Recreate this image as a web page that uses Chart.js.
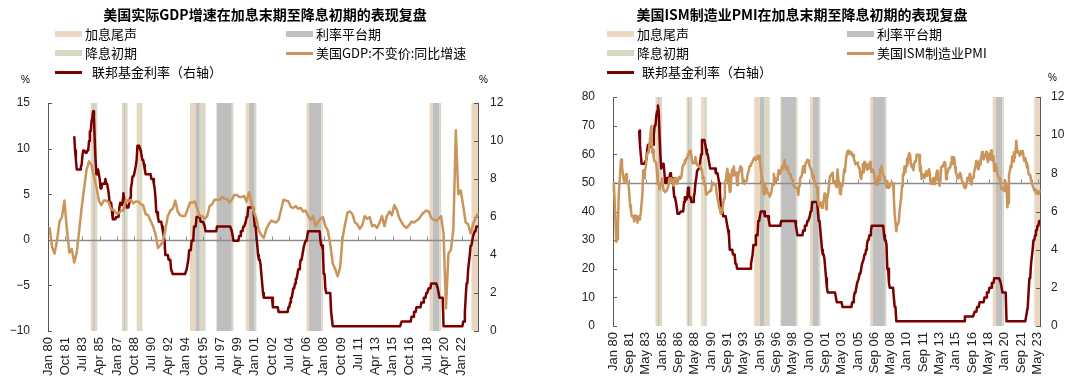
<!DOCTYPE html>
<html>
<head>
<meta charset="utf-8">
<script src="https://cdn.jsdelivr.net/npm/chart.js@4.4.0/dist/chart.umd.min.js"></script>
<style>
	body { margin: 0; background: #fff; }
	#page { position: relative; width: 1080px; height: 386px; overflow: hidden; font-family: "Noto Sans CJK SC", sans-serif; color: #000; }
	.panel { position: absolute; top: 0; width: 540px; height: 386px; }
	.panel canvas { position: absolute; left: 0; top: 0; }
	.title { position: absolute; top: 4px; left: 0; width: 530px; text-align: center; font-weight: bold; font-size: 14px; }
	.leg { position: absolute; font-size: 13px; line-height: 16px; white-space: nowrap; }
	.sw { position: absolute; }
	.unit { position: absolute; font-family: "Liberation Sans", sans-serif; font-size: 10px; }
</style>
</head>
<body>
<div id="page">
	<div class="panel" style="left:0">
		<canvas id="gdpChart" width="540" height="386"></canvas>
		<div class="title">美国实际GDP增速在加息末期至降息初期的表现复盘</div>
		<div class="sw" style="left:55px;top:31px;width:27px;height:6px;background:#E9D7C0"></div>
		<div class="leg" style="left:85px;top:26px">加息尾声</div>
		<div class="sw" style="left:286px;top:31px;width:27px;height:6px;background:#BFBFBF"></div>
		<div class="leg" style="left:316px;top:26px">利率平台期</div>
		<div class="sw" style="left:55px;top:50px;width:27px;height:6px;background:#D9D8C4"></div>
		<div class="leg" style="left:85px;top:45px">降息初期</div>
		<div class="sw" style="left:286px;top:52px;width:27px;height:3px;background:#C9955A"></div>
		<div class="leg" style="left:316px;top:45px">美国GDP:不变价:同比增速</div>
		<div class="sw" style="left:55px;top:71px;width:27px;height:3px;background:#780000"></div>
		<div class="leg" style="left:92px;top:64px">联邦基金利率（右轴）</div>
		<div class="unit" style="left:21px;top:74px">%</div>
		<div class="unit" style="left:479px;top:74px">%</div>
	</div>
	<div class="panel" style="left:540px">
		<canvas id="pmiChart" width="540" height="386"></canvas>
		<div class="title" style="left:-3px">美国ISM制造业PMI在加息末期至降息初期的表现复盘</div>
		<div class="sw" style="left:67px;top:31px;width:27px;height:6px;background:#E9D7C0"></div>
		<div class="leg" style="left:97px;top:26px">加息尾声</div>
		<div class="sw" style="left:307px;top:31px;width:27px;height:6px;background:#BFBFBF"></div>
		<div class="leg" style="left:337px;top:26px">利率平台期</div>
		<div class="sw" style="left:67px;top:50px;width:27px;height:6px;background:#D9D8C4"></div>
		<div class="leg" style="left:97px;top:45px">降息初期</div>
		<div class="sw" style="left:307px;top:52px;width:27px;height:3px;background:#C9955A"></div>
		<div class="leg" style="left:337px;top:45px">美国ISM制造业PMI</div>
		<div class="sw" style="left:67px;top:71px;width:27px;height:3px;background:#780000"></div>
		<div class="leg" style="left:102px;top:64px">联邦基金利率（右轴）</div>
		<div class="unit" style="left:508px;top:72px">%</div>
	</div>
</div>
<script>
//======================================================================================================
// Data
//======================================================================================================
var MONTH_NAMES = ['Jan','Feb','Mar','Apr','May','Jun','Jul','Aug','Sep','Oct','Nov','Dec'];
var GDP_MONTHS = 525;   // Jan 80 .. Sep 23
var PMI_MONTHS = 524;   // Jan 80 .. Aug 23

// Fed funds target rate (upper bound), monthly from Jan 80
var fedFunds = [
	null,null,null,null,null,null,null,null,null,null,null,null,
	null,null,null,null,null,null,null,null,null,null,null,null,
	null,null,null,null,null,null,null,null,10.25,9.5,9.0,8.5,
	8.5,8.5,8.5,8.5,8.63,8.75,9.25,9.5,9.5,9.5,9.38,9.38,
	9.5,9.5,10.0,10.5,10.5,11.0,11.25,11.56,11.25,10.0,9.0,8.25,
	8.25,8.5,8.5,8.0,7.5,7.5,7.75,7.75,7.75,7.75,8.0,7.75,
	7.75,7.75,7.25,6.75,6.75,6.75,6.25,5.88,5.88,5.88,5.88,6.0,
	6.0,6.0,6.0,6.5,6.75,6.75,6.63,6.75,7.25,6.88,6.75,6.75,
	6.5,6.5,6.5,6.75,7.0,7.5,7.75,8.13,8.13,8.25,8.25,8.69,
	9.0,9.75,9.75,9.75,9.75,9.5,9.25,9.0,9.0,8.75,8.5,8.25,
	8.25,8.25,8.25,8.25,8.25,8.25,8.0,8.0,8.0,7.75,7.5,7.0,
	6.25,6.25,6.0,5.75,5.75,5.75,5.75,5.5,5.25,5.0,4.75,4.0,
	4.0,4.0,4.0,3.75,3.75,3.75,3.25,3.25,3.0,3.0,3.0,3.0,
	3.0,3.0,3.0,3.0,3.0,3.0,3.0,3.0,3.0,3.0,3.0,3.0,
	3.0,3.25,3.5,3.75,4.25,4.25,4.25,4.75,4.75,4.75,5.5,5.5,
	5.5,6.0,6.0,6.0,6.0,6.0,5.75,5.75,5.75,5.75,5.75,5.5,
	5.25,5.25,5.25,5.25,5.25,5.25,5.25,5.25,5.25,5.25,5.25,5.25,
	5.25,5.25,5.5,5.5,5.5,5.5,5.5,5.5,5.5,5.5,5.5,5.5,
	5.5,5.5,5.5,5.5,5.5,5.5,5.5,5.5,5.25,5.0,4.75,4.75,
	4.75,4.75,4.75,4.75,4.75,5.0,5.0,5.25,5.25,5.25,5.5,5.5,
	5.5,5.75,6.0,6.0,6.5,6.5,6.5,6.5,6.5,6.5,6.5,6.5,
	5.5,5.5,5.0,4.5,4.0,3.75,3.75,3.5,3.0,2.5,2.0,1.75,
	1.75,1.75,1.75,1.75,1.75,1.75,1.75,1.75,1.75,1.75,1.25,1.25,
	1.25,1.25,1.25,1.25,1.25,1.0,1.0,1.0,1.0,1.0,1.0,1.0,
	1.0,1.0,1.0,1.0,1.0,1.25,1.25,1.5,1.75,1.75,2.0,2.25,
	2.25,2.5,2.75,2.75,3.0,3.25,3.25,3.5,3.75,3.75,4.0,4.25,
	4.5,4.5,4.75,4.75,5.0,5.25,5.25,5.25,5.25,5.25,5.25,5.25,
	5.25,5.25,5.25,5.25,5.25,5.25,5.25,5.25,4.75,4.5,4.5,4.25,
	3.0,3.0,2.25,2.0,2.0,2.0,2.0,2.0,2.0,1.0,1.0,0.25,
	0.25,0.25,0.25,0.25,0.25,0.25,0.25,0.25,0.25,0.25,0.25,0.25,
	0.25,0.25,0.25,0.25,0.25,0.25,0.25,0.25,0.25,0.25,0.25,0.25,
	0.25,0.25,0.25,0.25,0.25,0.25,0.25,0.25,0.25,0.25,0.25,0.25,
	0.25,0.25,0.25,0.25,0.25,0.25,0.25,0.25,0.25,0.25,0.25,0.25,
	0.25,0.25,0.25,0.25,0.25,0.25,0.25,0.25,0.25,0.25,0.25,0.25,
	0.25,0.25,0.25,0.25,0.25,0.25,0.25,0.25,0.25,0.25,0.25,0.25,
	0.25,0.25,0.25,0.25,0.25,0.25,0.25,0.25,0.25,0.25,0.25,0.5,
	0.5,0.5,0.5,0.5,0.5,0.5,0.5,0.5,0.5,0.5,0.5,0.75,
	0.75,0.75,1.0,1.0,1.0,1.25,1.25,1.25,1.25,1.25,1.25,1.5,
	1.5,1.5,1.75,1.75,1.75,2.0,2.0,2.0,2.25,2.25,2.25,2.5,
	2.5,2.5,2.5,2.5,2.5,2.5,2.5,2.25,2.0,1.75,1.75,1.75,
	1.75,1.75,0.25,0.25,0.25,0.25,0.25,0.25,0.25,0.25,0.25,0.25,
	0.25,0.25,0.25,0.25,0.25,0.25,0.25,0.25,0.25,0.25,0.25,0.25,
	0.25,0.25,0.5,0.5,1.0,1.75,2.5,2.5,3.25,3.25,4.0,4.5,
	4.5,4.75,5.0,5.0,5.25,5.25,5.5,5.5,5.5
];

// US real GDP, % y/y, quarterly 1980Q1 .. 2023Q3
var gdpYoY = [
	1.4,-0.8,-1.5,-0.1,  2.0,2.5,4.3,1.2,  -1.4,-1.0,-2.5,-1.4,  1.0,3.5,5.6,7.7,
	8.6,8.2,7.0,5.8,  4.3,3.8,4.3,4.3,  4.1,3.3,3.3,2.9,  2.9,3.2,3.2,4.4,
	4.2,4.4,4.0,4.2,  4.2,3.9,3.8,2.8,  2.7,2.1,1.5,0.6,  -0.9,-0.6,-0.2,1.1,
	2.6,3.2,3.4,4.3,  3.1,2.7,2.6,2.6,  3.3,4.1,4.1,4.2,  3.4,2.6,2.6,2.3,
	2.6,3.7,3.9,4.4,  4.4,4.4,4.7,4.5,  4.5,4.1,4.4,4.9,  4.9,4.7,4.7,4.8,
	4.2,5.2,4.1,3.0,  2.3,1.0,0.5,0.2,  1.2,1.7,2.1,2.0,  1.9,2.2,3.3,4.4,
	4.3,4.2,3.6,3.5,  3.7,3.4,3.5,3.1,  3.2,2.6,2.2,2.6,  1.5,1.9,2.3,2.5,
	1.5,1.0,-0.5,-2.6,  -3.2,-4.0,-3.0,0.2,  1.7,3.0,3.1,2.8,  1.9,1.7,1.2,1.6,
	2.6,2.3,2.5,1.5,  1.6,1.3,1.9,2.6,  1.5,2.6,3.1,2.7,  3.8,3.3,2.4,1.9,
	1.5,1.3,1.6,2.0,  1.9,2.1,2.3,2.7,  3.0,3.2,3.1,2.4,  2.2,2.1,2.3,2.6,
	0.7,-7.5,-1.5,-1.1,  1.2,12.0,5.0,5.4,  3.7,1.9,1.7,0.7,  1.7,2.4,2.9
];

// ISM manufacturing PMI, monthly Jan 80 .. Aug 23
var ismPmi = [
	46.9,50.1,43.6,37.4,29.4,30.3,35.0,45.5,50.1,54.7,58.2,55.8,
	53.4,51.3,50.2,51.4,53.0,51.3,49.7,49.4,46.1,42.1,40.3,38.3,
	38.5,38.1,36.5,38.6,37.4,38.0,36.1,38.3,37.2,37.8,39.4,42.8,
	46.0,54.4,51.6,54.2,55.3,58.5,60.0,60.8,61.8,64.3,67.6,69.9,
	60.5,61.5,58.4,57.5,57.5,56.6,53.5,49.6,49.5,47.7,49.2,50.4,
	51.5,49.6,47.3,47.1,46.7,47.3,47.7,48.2,49.1,51.5,50.6,51.6,
	51.3,51.3,49.0,49.8,51.7,50.9,49.7,49.8,51.6,52.1,51.4,51.7,
	52.4,55.4,56.1,56.7,57.9,57.6,58.7,58.6,60.0,61.0,61.0,61.3,
	59.3,57.3,56.8,56.8,57.0,59.0,57.0,56.2,56.3,55.9,55.5,56.0,
	54.7,54.1,51.5,52.1,49.3,49.4,45.9,46.0,46.5,46.8,46.8,47.4,
	47.2,49.1,49.9,50.0,49.5,49.2,49.1,46.1,44.5,43.2,41.3,40.8,
	39.2,39.4,40.7,42.8,44.5,50.3,50.6,52.9,54.9,53.0,49.8,46.8,
	47.3,52.7,54.6,52.6,55.7,52.8,53.4,53.6,49.3,51.4,53.7,54.2,
	55.8,55.2,53.5,50.2,51.2,49.6,50.2,50.7,50.8,53.4,53.8,55.6,
	56.0,56.5,56.9,57.4,58.2,58.8,58.5,58.0,59.0,59.4,58.4,59.4,
	57.4,55.1,52.1,51.5,46.7,46.0,49.8,47.9,48.1,46.9,46.3,45.9,
	45.2,46.0,46.6,49.3,49.3,53.1,50.0,51.7,51.2,51.0,52.7,54.5,
	53.0,53.7,54.0,55.8,55.0,55.4,58.0,56.0,54.7,55.4,55.7,53.6,
	53.1,52.9,51.6,51.3,51.3,49.5,48.6,48.3,48.5,48.2,47.8,45.8,
	49.0,51.3,52.1,52.2,54.3,55.8,53.6,54.8,57.0,57.2,58.1,57.8,
	56.7,55.8,54.9,54.7,53.2,51.4,52.5,49.9,49.7,48.7,48.5,43.9,
	42.3,41.9,43.1,42.7,41.3,43.2,43.5,46.3,46.2,40.8,44.1,45.3,
	47.5,50.7,52.4,52.4,53.1,53.6,50.2,50.3,50.5,49.0,48.5,54.7,
	51.3,50.0,46.2,46.0,49.0,49.0,51.0,54.7,53.7,57.0,59.5,61.0,
	61.2,60.0,61.0,60.3,60.7,59.5,59.8,58.5,57.5,56.5,56.8,57.0,
	56.4,55.3,55.2,52.3,51.4,53.8,56.6,53.6,57.4,57.1,56.1,54.6,
	54.8,56.7,55.2,57.3,54.4,53.8,54.7,54.5,52.9,51.2,49.5,51.4,
	49.3,52.3,50.9,54.7,55.0,56.0,53.8,52.9,52.0,50.9,50.8,48.4,
	50.7,48.3,48.6,48.6,49.6,50.2,50.0,49.9,44.8,38.9,36.2,33.1,
	35.5,35.8,36.3,40.1,42.8,44.8,48.9,52.9,52.6,55.7,53.6,55.9,
	58.4,56.5,59.6,60.4,59.7,56.2,55.5,56.3,54.4,56.9,57.6,57.5,
	59.9,59.8,59.7,59.7,54.2,55.8,51.4,52.5,53.0,51.8,52.2,53.6,
	54.1,52.4,53.4,54.8,53.5,49.7,49.8,49.6,51.5,51.7,49.5,50.7,
	53.1,54.2,51.3,50.7,49.0,50.9,55.4,55.7,56.2,56.4,57.3,57.0,
	51.3,53.2,53.7,54.9,55.4,55.3,57.1,59.0,56.6,59.0,58.7,55.5,
	53.5,52.9,51.5,51.5,52.8,53.5,52.7,51.1,50.2,50.1,48.6,48.2,
	48.2,49.5,51.8,50.8,51.3,53.2,52.6,49.4,51.5,51.9,53.2,54.7,
	56.0,57.7,57.2,54.8,54.9,57.8,56.3,58.8,60.8,58.7,58.2,59.7,
	59.1,60.8,59.3,57.3,58.7,60.2,58.1,61.3,59.8,57.7,59.3,54.1,
	56.6,54.2,55.3,52.8,52.1,51.7,51.2,49.1,47.8,48.3,48.1,47.2,
	50.9,50.1,49.1,41.5,43.1,52.6,54.2,56.0,55.4,59.3,57.5,60.7,
	58.7,60.8,64.7,60.7,61.2,60.6,59.5,59.9,61.1,60.8,61.1,58.8,
	57.6,58.6,57.1,55.4,56.1,53.0,52.8,52.8,50.9,50.2,49.0,48.4,
	47.4,47.7,46.3,47.1,46.9,46.0,46.4,47.6
];

// Shaded periods: [from, to]
var hikeEndBands = [
	['May 84','Aug 84'], ['Jul 87','Sep 87'], ['Jan 89','Apr 89'], ['Jun 94','Jan 95'],
	['Feb 97','Mar 97'], ['Feb 00','Jun 00'], ['Apr 06','Jul 06'], ['Oct 18','Feb 19'], ['Jan 23','Sep 23']
];
var plateauBands = [
	['Aug 84','Oct 84'], ['Sep 87','Nov 87'], ['Jan 95','Jun 95'], ['Mar 97','Sep 98'],
	['Jun 00','Jan 01'], ['Jul 06','Oct 07'], ['Feb 19','Oct 19']
];
var cutStartBands = [
	['Oct 84','Jan 85'], ['Nov 87','Feb 88'], ['Apr 89','Aug 89'], ['Jun 95','Jan 96'],
	['Sep 98','Nov 98'], ['Jan 01','Mar 01'], ['Oct 07','Dec 07'], ['Oct 19','Dec 19']
];

var TAN = '#E9D7C0', GREY = '#BFBFBF', OLIVE = '#D9D8C4';
var GOLD = '#C9955A', MAROON = '#780000', AXIS = '#595959';

//======================================================================================================
// Helpers
//======================================================================================================
function MonthLabels(count)
{
	var out = [];
	for (var i = 0; i < count; i++)
	{
		var yy = (1980 + Math.floor(i / 12)) % 100;
		out.push(MONTH_NAMES[i % 12] + ' ' + (yy < 10 ? '0' : '') + yy);
	}
	return out;
}

// Shaded bands, reference line with its tick marks, inward y-axis ticks
var shadePlugin = {
	id: 'shade',
	beforeDraw: function(chart, args, opts) {
		var ctx = chart.ctx, a = chart.chartArea, x = chart.scales.x;
		var labels = chart.data.labels;
		function idx(s) { var i = labels.indexOf(s); return i < 0 ? labels.length - 1 : i; }
		ctx.save();
		[[hikeEndBands, TAN], [plateauBands, GREY], [cutStartBands, OLIVE]].forEach(function(set) {
			ctx.fillStyle = set[1];
			set[0].forEach(function(b) {
				var x0 = x.getPixelForValue(idx(b[0])), x1 = x.getPixelForValue(idx(b[1]));
				ctx.fillRect(x0, a.top, x1 - x0, a.bottom - a.top);
			});
		});
		ctx.restore();
	},
	beforeDatasetsDraw: function(chart, args, opts) {
		var ctx = chart.ctx, a = chart.chartArea, s = chart.scales;
		var yRef = Math.round(s.y.getPixelForValue(opts.refValue)) + 0.5;
		ctx.save();
		ctx.strokeStyle = '#8C8C8C';
		ctx.lineWidth = 1.5;
		ctx.beginPath();
		ctx.moveTo(a.left, yRef);
		ctx.lineTo(a.right, yRef);
		ctx.stroke();
		ctx.lineWidth = 1;
		ctx.beginPath();
		for (var i = opts.every; i < chart.data.labels.length; i += opts.every)
		{
			var px = Math.round(s.x.getPixelForValue(i)) + 0.5;
			ctx.moveTo(px, yRef);
			ctx.lineTo(px, yRef - 4);
		}
		ctx.stroke();
		ctx.strokeStyle = AXIS;
		ctx.beginPath();
		s.y.ticks.forEach(function(t) {
			var py = Math.round(s.y.getPixelForValue(t.value)) + 0.5;
			ctx.moveTo(a.left, py);
			ctx.lineTo(a.left + 4, py);
		});
		s.y2.ticks.forEach(function(t) {
			var py = Math.round(s.y2.getPixelForValue(t.value)) + 0.5;
			ctx.moveTo(a.right, py);
			ctx.lineTo(a.right - 4, py);
		});
		ctx.stroke();
		ctx.restore();
	}
};

function TickFont(size) { return { family: 'Liberation Sans', size: size || 12 }; }
function Minus(v) { return v < 0 ? '\u2212' + Math.abs(v) : '' + v; }

function MakeChart(canvasId, labels, datasets, cfg)
{
	return new Chart(document.getElementById(canvasId), {
		type: 'line',
		data: { labels: labels, datasets: datasets },
		plugins: [shadePlugin],
		options: {
			responsive: false,
			animation: false,
			devicePixelRatio: 1,
			layout: { padding: { top: cfg.top, left: 0, right: 0, bottom: 0 } },
			elements: { point: { radius: 0 }, line: { tension: 0, borderJoinStyle: 'round' } },
			plugins: {
				legend: { display: false },
				tooltip: { enabled: false },
				shade: { refValue: cfg.refValue, every: cfg.every }
			},
			scales: {
				x: {
					grid: { display: false, drawTicks: false },
					border: { display: false },
					ticks: {
						autoSkip: false, minRotation: 90, maxRotation: 90, padding: 6,
						color: '#222', font: TickFont(13),
						callback: function(v, i) { return i % cfg.every === 0 ? this.getLabelForValue(v) : null; }
					},
					afterFit: function(sc) { sc.height = cfg.xHeight; }
				},
				y: {
					min: cfg.yMin, max: cfg.yMax,
					grid: { display: false, drawTicks: false },
					border: { display: true, color: AXIS, width: 1 },
					ticks: { stepSize: cfg.yStep, padding: 18, color: '#222', font: TickFont(), callback: Minus },
					afterFit: function(sc) { sc.width = cfg.yWidth; }
				},
				y2: {
					position: 'right', min: 0, max: 12,
					grid: { display: false, drawTicks: false },
					border: { display: true, color: AXIS, width: 1 },
					ticks: { stepSize: 2, padding: cfg.y2Pad, color: '#222', font: TickFont() },
					afterFit: function(sc) { sc.width = cfg.y2Width; }
				}
			}
		}
	});
}

//======================================================================================================
// Left chart: real GDP growth
//======================================================================================================
var gdpLabels = MonthLabels(GDP_MONTHS);
var gdpPoints = gdpYoY.map(function(v, q) { return { x: gdpLabels[q * 3 + 2], y: v }; });

MakeChart('gdpChart', gdpLabels, [
	{ label: '美国GDP:不变价:同比增速', data: gdpPoints, yAxisID: 'y', borderColor: GOLD, borderWidth: 2.5 },
	{ label: '联邦基金利率（右轴）', data: fedFunds.slice(0, GDP_MONTHS), yAxisID: 'y2', borderColor: MAROON, borderWidth: 2.5 }
], { top: 103, xHeight: 55, yWidth: 48, y2Width: 62, y2Pad: 12, yMin: -10, yMax: 15, yStep: 5, refValue: 0, every: 21 });

//======================================================================================================
// Right chart: ISM manufacturing PMI
//======================================================================================================
var pmiLabels = MonthLabels(PMI_MONTHS);

MakeChart('pmiChart', pmiLabels, [
	{ label: '美国ISM制造业PMI', data: ismPmi, yAxisID: 'y', borderColor: GOLD, borderWidth: 2.5 },
	{ label: '联邦基金利率（右轴）', data: fedFunds.slice(0, PMI_MONTHS), yAxisID: 'y2', borderColor: MAROON, borderWidth: 2.5 }
], { top: 97, xHeight: 60, yWidth: 73, y2Width: 40, y2Pad: 11, yMin: 0, yMax: 80, yStep: 10, refValue: 50, every: 20 });
</script>
</body>
</html>
